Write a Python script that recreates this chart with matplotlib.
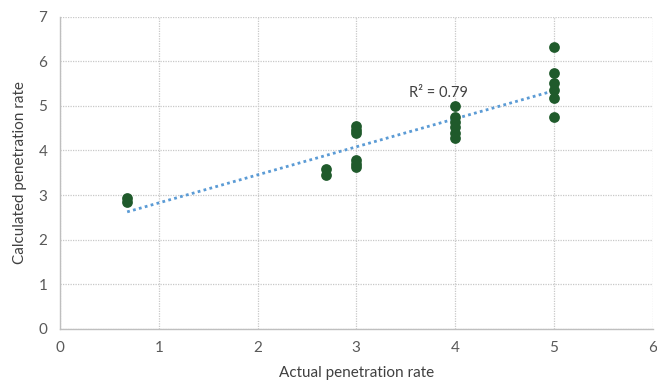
import matplotlib.pyplot as plt
import numpy as np

plt.rcParams['font.family'] = ['Lato', 'DejaVu Sans']

# actual vs calculated penetration rate
actual = [0.68, 0.68,
          2.69, 2.69,
          3, 3, 3, 3, 3, 3,
          4, 4, 4, 4, 4, 4,
          5, 5, 5, 5, 5, 5]
calculated = [2.93, 2.85,
              3.58, 3.45,
              4.54, 4.47, 4.40, 3.78, 3.70, 3.63,
              5.00, 4.76, 4.64, 4.53, 4.40, 4.29,
              6.33, 5.73, 5.51, 5.36, 5.18, 4.76]
r2_label = 'R² = 0.79'

x = np.array(actual)
y = np.array(calculated)
slope, intercept = np.polyfit(x, y, 1)

fig = plt.figure(figsize=(6.57, 3.9), dpi=100)
ax = fig.add_axes([0.0913, 0.157, 0.902, 0.80])

ax.scatter(x, y, s=60, color='#1f5a2b', zorder=3, linewidths=0)

xs = np.array([x.min(), x.max()])
ax.plot(xs, slope * xs + intercept, linestyle=(0, (1, 1.2)),
        color='#5b9bd5', linewidth=2.0, zorder=2)

ax.text(3.53, 5.2, r2_label, fontsize=10.5, color='#404040')

ax.set_xlim(0, 6)
ax.set_ylim(0, 7)
ax.set_xticks(range(0, 7))
ax.set_yticks(range(0, 8))
ax.grid(True, linestyle=(0, (1, 1)), color='#c8c8c8', linewidth=0.9)
ax.set_axisbelow(True)
ax.tick_params(length=0, labelsize=11, colors='#595959', pad=9)
for side in ['top', 'right']:
    ax.spines[side].set_visible(False)
for side in ['left', 'bottom']:
    ax.spines[side].set_color('#bfbfbf')
    ax.spines[side].set_linewidth(1.0)

ax.set_xlabel('Actual penetration rate', fontsize=11, color='#404040',
              labelpad=8)
ax.set_ylabel('Calculated penetration rate', fontsize=11, color='#404040',
              labelpad=8)

fig.savefig('out.png', dpi=100)
